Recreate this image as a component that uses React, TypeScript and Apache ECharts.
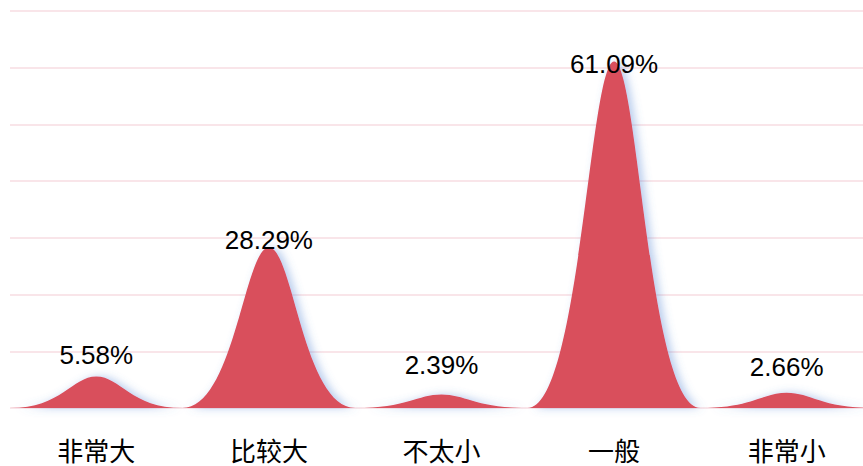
import React, { useEffect, useRef } from "react";
import * as echarts from "echarts";

const categories = ["非常大", "比较大", "不太小", "一般", "非常小"];
const values = [5.58, 28.29, 2.39, 61.09, 2.66];
const yTicks = [0, 10, 20, 30, 40, 50, 60, 70];

const MOUNTAIN = "path://M0,10 C3,10 3.6,0 5,0 C6.4,0 7,10 10,10 Z";

export default function App() {
  const ref = useRef<HTMLDivElement>(null);
  useEffect(() => {
    if (!ref.current) return;
    const chart = echarts.init(ref.current, undefined, { renderer: "svg" });
    const labelNudge = [-8, 5, -16, 15, -13];
    chart.setOption({
      animation: false,
      grid: { left: 10, right: 17, top: 11, bottom: 58, containLabel: false },
      xAxis: {
        type: "category",
        data: categories,
        axisLine: { show: false },
        axisTick: { show: false },
        axisLabel: {
          color: "#000",
          fontSize: 26,
          lineHeight: 26,
          margin: 28,
          fontFamily: "Noto Sans CJK SC",
        },
      },
      yAxis: {
        type: "value",
        min: yTicks[0],
        max: yTicks[yTicks.length - 1],
        interval: 10,
        axisLabel: { show: false },
        axisLine: { show: false },
        axisTick: { show: false },
        splitLine: { lineStyle: { color: "#f7dde2", width: 1.5 } },
      },
      series: [
        {
          type: "pictorialBar",
          symbol: MOUNTAIN,
          barCategoryGap: "0%",
          data: values.map((v, i) => ({
            value: v,
            label: { offset: [0, labelNudge[i]] },
          })),
          itemStyle: {
            color: "#d94f5b",
            shadowColor: "rgba(80,130,210,0.4)",
            shadowBlur: 8,
            shadowOffsetX: 4,
          },
          label: {
            show: true,
            position: "top",
            distance: 0,
            formatter: "{c}%",
            color: "#000",
            fontSize: 26,
            fontFamily: "Liberation Sans, Arial, sans-serif",
          },
        },
      ],
    });
    return () => chart.dispose();
  }, []);
  return (
    <div style={{ position: "fixed", left: 0, top: 0, width: 863, height: 466, overflow: "hidden", background: "#fff" }}>
      <div ref={ref} style={{ width: 890, height: 466 }} />
    </div>
  );
}
